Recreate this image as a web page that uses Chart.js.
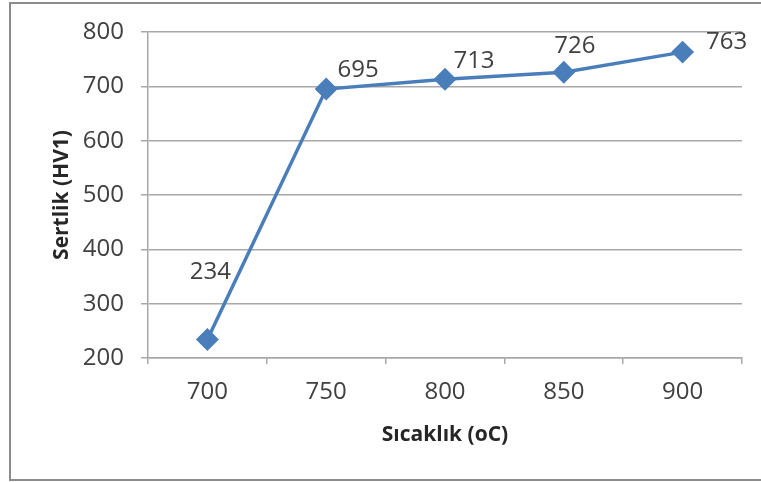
<!DOCTYPE html>
<html>
<head>
<meta charset="utf-8">
<script src="https://cdn.jsdelivr.net/npm/chart.js@4"></script>
<style>
  html, body { margin: 0; padding: 0; background: #fff; }
  #wrap { width: 761px; height: 482px; position: relative; }
</style>
</head>
<body>
<div id="wrap"><canvas id="hardnessChart"></canvas></div>
<script>
const temperatures = ['700', '750', '800', '850', '900'];
const hardness = [234, 695, 713, 726, 763];
const yTicks = [200, 300, 400, 500, 600, 700, 800];

// where each value label sits relative to its marker
const labelOffsets = [[3, -67], [32, -19], [29, -18], [11, -26], [44, -10]];

const textColor = '#404040';
const gridColor = '#a8a8a8';

const frame = {
    id: 'frame',
    beforeDraw(chart) {
        const c = chart.ctx;
        c.save();
        c.strokeStyle = '#8c8c8c';
        c.lineWidth = 2;
        c.strokeRect(10, 3, chart.width + 10, chart.height - 5);
        c.restore();
    }
};

const valueLabels = {
    id: 'valueLabels',
    afterDatasetsDraw(chart) {
        const c = chart.ctx;
        const meta = chart.getDatasetMeta(0);
        c.save();
        c.font = '24px "Open Sans", sans-serif';
        c.fillStyle = textColor;
        c.textAlign = 'center';
        c.textBaseline = 'middle';
        meta.data.forEach((pt, i) => {
            const off = labelOffsets[i];
            c.fillText(String(hardness[i]), pt.x + off[0], pt.y + off[1]);
        });
        c.restore();
    }
};

new Chart(document.getElementById('hardnessChart'), {
    type: 'line',
    data: {
        labels: temperatures,
        datasets: [{
            data: hardness,
            borderColor: '#4a7ebb',
            backgroundColor: '#4a7ebb',
            borderWidth: 3.5,
            pointStyle: 'rectRot',
            pointRadius: 9,
            pointHoverRadius: 9,
            tension: 0
        }]
    },
    options: {
        responsive: true,
        maintainAspectRatio: false,
        animation: false,
        events: [],
        layout: { padding: { left: 49, top: 32, right: 19, bottom: 34 } },
        plugins: { legend: { display: false }, tooltip: { enabled: false } },
        scales: {
            x: {
                offset: true,
                grid: { offset: true, drawOnChartArea: false, color: gridColor, lineWidth: 1.5, tickLength: 6 },
                border: { color: gridColor, width: 1.5 },
                ticks: { color: textColor, font: { family: 'Open Sans', size: 24 }, padding: 14 },
                title: {
                    display: true,
                    text: 'Sıcaklık (oC)',
                    color: '#262626',
                    font: { family: 'Open Sans', size: 21, weight: 'bold' },
                    padding: 0
                },
                afterFit: s => { s.height = 90; }
            },
            y: {
                min: 200,
                max: 800,
                afterBuildTicks: s => { s.ticks = yTicks.map(v => ({ value: v })); },
                grid: { color: gridColor, lineWidth: 1.5, tickLength: 7 },
                border: { color: gridColor, width: 1.5 },
                ticks: { color: textColor, font: { family: 'Open Sans', size: 24 }, padding: 17 },
                title: {
                    display: true,
                    text: 'Sertlik (HV1)',
                    color: '#262626',
                    font: { family: 'Open Sans', size: 21, weight: 'bold' },
                    padding: 0
                },
                afterFit: s => { s.width = 99; }
            }
        }
    },
    plugins: [frame, valueLabels]
});
</script>
</body>
</html>
